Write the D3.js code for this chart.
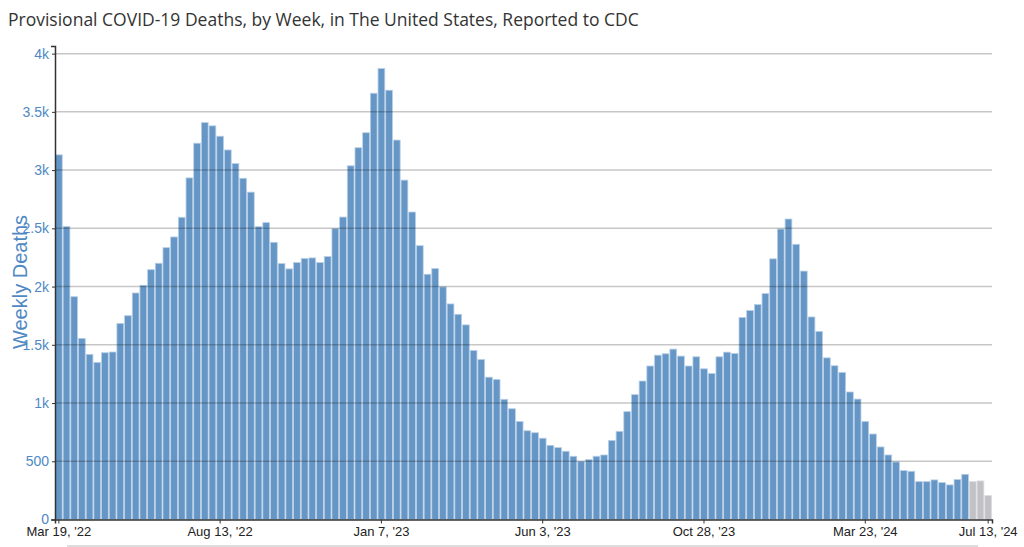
<!DOCTYPE html>
<html>
<head>
<meta charset="utf-8">
<script src="https://cdn.jsdelivr.net/npm/d3@7"></script>
<style>
  body { margin: 0; background: #fff; }
  svg { display: block; }
</style>
</head>
<body>
<div class="container"></div>
<script>
// size of window
var width = 1024, height = 547;
var margin = {top: 46, right: 32, bottom: 27.5, left: 55};

// first week of the data, every bar is one week after the one before
var startWeek = "2022-03-19";

// weekly deaths
var weeklyDeaths = [
  3131, 2515, 1913, 1555, 1418, 1349, 1432, 1438, 1684, 1750,
  1945, 2011, 2145, 2200, 2334, 2426, 2595, 2933, 3231, 3408,
  3380, 3291, 3173, 3056, 2930, 2811, 2514, 2549, 2380, 2198,
  2152, 2206, 2241, 2246, 2206, 2258, 2497, 2597, 3037, 3192,
  3321, 3660, 3872, 3686, 3258, 2914, 2640, 2351, 2106, 2155,
  1997, 1851, 1762, 1671, 1451, 1374, 1222, 1202, 1032, 951,
  842, 762, 745, 698, 637, 617, 586, 543, 500, 514,
  543, 554, 679, 757, 926, 1072, 1189, 1318, 1411, 1423,
  1463, 1403, 1318, 1397, 1294, 1254, 1397, 1437, 1426, 1735,
  1795, 1846, 1940, 2238, 2494, 2580, 2363, 2133, 1739, 1615,
  1388, 1320, 1263, 1095, 1034, 842, 734, 623, 554, 494,
  420, 414, 325, 325, 340, 317, 297, 343, 388, 325,
  331, 205
];
// the last weeks are still incomplete (grey bars)
var incompleteWeeks = 3;

// dates shown on the x axis
var tickDates = ["2022-03-19", "2022-08-13", "2023-01-07", "2023-06-03", "2023-10-28", "2024-03-23", "2024-07-13"];

var parseDate = d3.timeParse("%Y-%m-%d");
var formatDate = d3.timeFormat("%b %-d, '%y");

// build the week list from the start date
var weeks = weeklyDeaths.map(function(v, i) {
  return {
    date: d3.timeDay.offset(parseDate(startWeek), i * 7),
    value: v,
    incomplete: i >= weeklyDeaths.length - incompleteWeeks
  };
});

var svg = d3.select(".container")
  .append("svg")
  .attr("width", width)
  .attr("height", height);

var x = d3.scaleBand()
  .domain(weeks.map(function(d) { return +d.date; }))
  .range([margin.left, width - margin.right])
  .paddingInner(0.12)
  .paddingOuter(0.06);

var y = d3.scaleLinear()
  .domain([0, d3.max(weeklyDeaths) * 1.05])
  .range([height - margin.bottom, margin.top]);

// title
svg.append("text")
  .attr("x", 8)
  .attr("y", 26)
  .attr("fill", "#333")
  .style("font-family", "'Open Sans', sans-serif")
  .style("font-size", "17.5px")
  .text("Provisional COVID-19 Deaths, by Week, in The United States, Reported to CDC");

// bars
svg.append("g")
  .selectAll("rect")
  .data(weeks)
  .join("rect")
  .attr("x", function(d) { return x(+d.date); })
  .attr("y", function(d) { return y(d.value); })
  .attr("width", x.bandwidth())
  .attr("height", function(d) { return y(0) - y(d.value); })
  .attr("fill", function(d) { return d.incomplete ? "#c2c2c6" : "#6596c5"; })
  .attr("stroke", function(d) { return d.incomplete ? "#dcdce0" : "#b9d0e8"; })
  .attr("stroke-width", 0.8);

// grid lines, drawn over the bars
var yTicks = y.ticks(8).filter(function(t) { return t > 0; });
svg.append("g")
  .selectAll("line")
  .data(yTicks)
  .join("line")
  .attr("x1", margin.left)
  .attr("x2", width - margin.right)
  .attr("y1", function(d) { return y(d); })
  .attr("y2", function(d) { return y(d); })
  .attr("stroke", "rgba(0,0,0,0.22)")
  .attr("stroke-width", 1.5);

// y axis
var yAxis = svg.append("g")
  .attr("transform", "translate(" + margin.left + ",0)")
  .call(d3.axisLeft(y).ticks(8).tickFormat(d3.format("~s")).tickSize(3).tickSizeOuter(4).tickPadding(3));
yAxis.select(".domain").attr("stroke", "#333").attr("stroke-width", 1.5);
yAxis.selectAll(".tick line").attr("stroke", "#333");
yAxis.selectAll("text")
  .attr("fill", "#4f88c4")
  .style("font-family", "'Liberation Sans', Arial, sans-serif")
  .style("font-size", "14px");

// x axis
var xAxis = svg.append("g")
  .attr("transform", "translate(0," + y(0) + ")")
  .call(d3.axisBottom(x)
    .tickValues(tickDates.map(function(t) { return +parseDate(t); }))
    .tickFormat(function(d) { return formatDate(new Date(d)); })
    .tickSize(4).tickSizeOuter(4).tickPadding(3));
xAxis.select(".domain").attr("stroke", "#333").attr("stroke-width", 1.5);
xAxis.selectAll(".tick line").attr("stroke", "#333");
xAxis.selectAll("text")
  .attr("fill", "#222")
  .style("font-family", "'Liberation Sans', Arial, sans-serif")
  .style("font-size", "13px");

// y axis label
svg.append("text")
  .attr("transform", "translate(27,282) rotate(-90)")
  .attr("text-anchor", "middle")
  .attr("fill", "#4f88c4")
  .style("font-family", "'Liberation Sans', Arial, sans-serif")
  .style("font-size", "20px")
  .text("Weekly Deaths");

// light line under the chart
svg.append("line")
  .attr("x1", 67).attr("x2", 978)
  .attr("y1", 546).attr("y2", 546)
  .attr("stroke", "#ddd")
  .attr("stroke-width", 2);
</script>
</body>
</html>
